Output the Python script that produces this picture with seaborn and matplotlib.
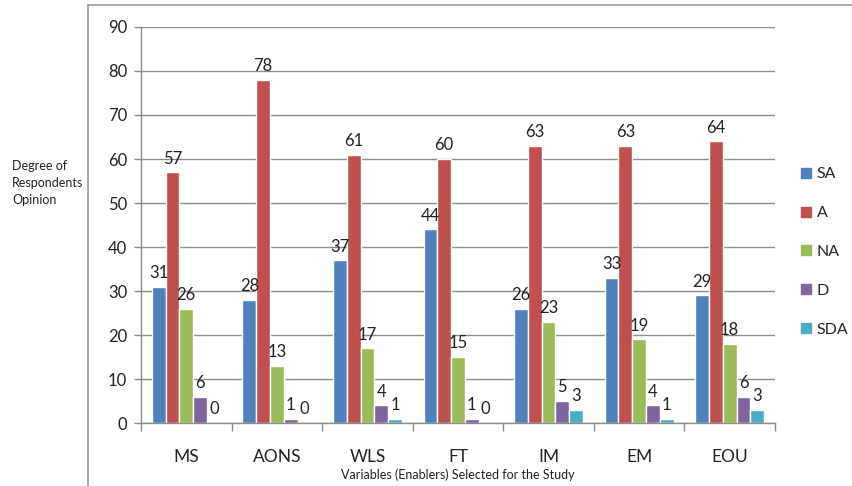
import matplotlib
matplotlib.use("Agg")
import matplotlib.pyplot as plt
import seaborn as sns
import pandas as pd
from matplotlib.lines import Line2D

categories = ["MS", "AONS", "WLS", "FT", "IM", "EM", "EOU"]
series = ["SA", "A", "NA", "D", "SDA"]
sa = [31, 28, 37, 44, 26, 33, 29]
a = [57, 78, 61, 60, 63, 63, 64]
na = [26, 13, 17, 15, 23, 19, 18]
d = [6, 1, 4, 1, 5, 4, 6]
sda = [0, 0, 1, 0, 3, 1, 3]
colors = ["#4F81BD", "#C0504D", "#9BBB59", "#8064A2", "#4BACC6"]

rows = []
for s, vals in zip(series, [sa, a, na, d, sda]):
    for c, v in zip(categories, vals):
        rows.append({"Variable": c, "Opinion": s, "Value": v})
df = pd.DataFrame(rows)

sns.set_theme(style="white")
plt.rcParams["font.family"] = ["Lato", "DejaVu Sans"]

fig = plt.figure(figsize=(8.53, 4.86), dpi=100)
ax = fig.add_axes([141/853, 1-423/486, (775-141)/853, (423-27)/486])

sns.barplot(data=df, x="Variable", y="Value", hue="Opinion", order=categories,
            hue_order=series, palette=colors, width=0.76, ax=ax,
            saturation=1, legend=True, errorbar=None)

for cont in ax.containers:
    ax.bar_label(cont, fmt="%d", padding=4, fontsize=12, color="#222222")

ax.set_ylim(0, 90)
ax.set_yticks(range(0, 91, 10))
ax.set_xlim(-0.5, len(categories)-0.5)
ax.grid(axis="y", color="#8c8c8c", linewidth=1.0)
ax.set_axisbelow(True)
for sp in ["top", "right"]:
    ax.spines[sp].set_visible(False)
for sp in ["left", "bottom"]:
    ax.spines[sp].set_color("#8c8c8c")
    ax.spines[sp].set_linewidth(1.0)

ax.tick_params(axis="y", length=5, width=1, color="#8c8c8c", direction="out", left=True,
               labelsize=12, pad=5, labelcolor="#222222")
ax.tick_params(axis="x", which="major", length=0, labelsize=12.5, pad=19, labelcolor="#222222")
ax.set_xticks([i - 0.5 for i in range(len(categories)+1)], minor=True)
ax.tick_params(axis="x", which="minor", length=6, color="#8c8c8c", width=1, direction="out", bottom=True)

ax.set_xlabel("Variables (Enablers) Selected for the Study", fontsize=9, labelpad=2, color="#222222")
ax.set_ylabel("")

fig.text(12/853, 1-183/486, "Degree of\nRespondents\nOpinion", fontsize=9, va="center", ha="left",
         linespacing=1.55, color="#222222")

handles = [plt.Rectangle((0, 0), 1, 1, color=c) for c in colors]
ax.legend(handles, series, loc="center left", bbox_to_anchor=(801/853, 1-252/486),
          bbox_transform=fig.transFigure, frameon=False, fontsize=11.5, borderpad=0,
          borderaxespad=0, handlelength=0.6, handleheight=0.6, handletextpad=0.4,
          labelspacing=1.55)

fig.add_artist(Line2D([88/853, 1.0], [1-5/486, 1-5/486], transform=fig.transFigure,
                      color="#999999", linewidth=1.2))
fig.add_artist(Line2D([88/853, 88/853], [0, 1-5/486], transform=fig.transFigure,
                      color="#999999", linewidth=1.2))

fig.savefig("out.png", dpi=100)
